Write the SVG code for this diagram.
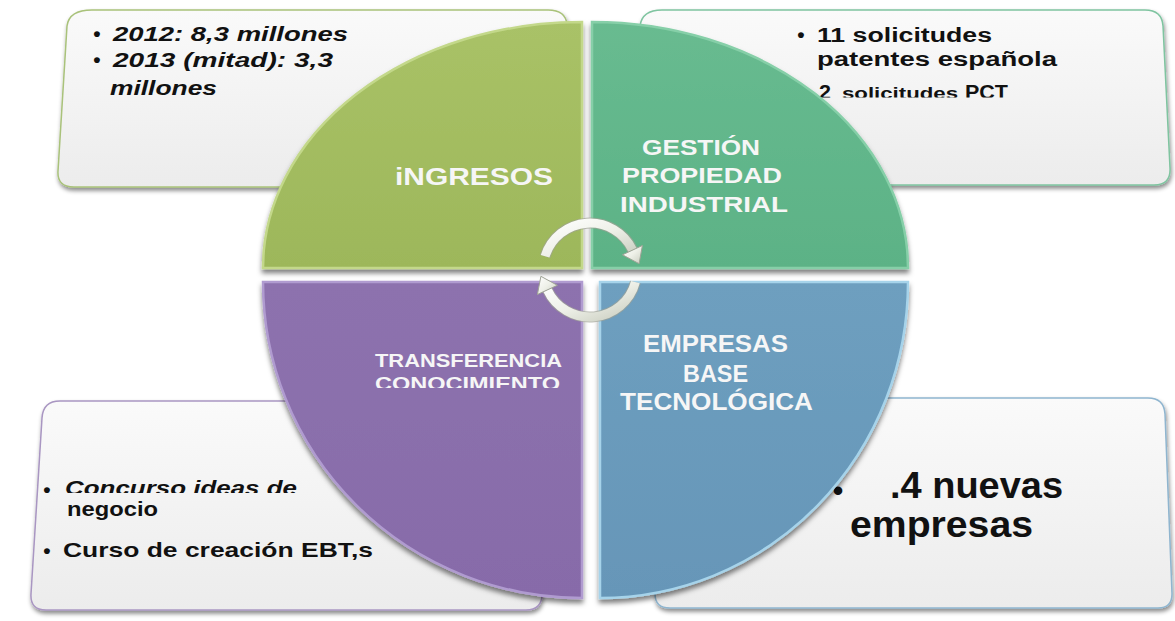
<svg xmlns="http://www.w3.org/2000/svg" width="1175" height="621" viewBox="0 0 1175 621">
  <style>
    .box { stroke-width: 1.5; filter: url(#shadow); }
    .btxt { font-family: "Liberation Sans", Arial, sans-serif; font-weight: bold; fill: #111111; }
    .bul { font-family: "Liberation Sans", Arial, sans-serif; font-weight: bold; fill: #111111; text-anchor: middle; }
    .lbl { font-family: "Liberation Sans", Arial, sans-serif; font-weight: bold; fill: #f6f6f6; }
    .quad { filter: url(#qshadow); stroke-width: 2.5; }
  </style>
  <defs>
    <filter id="shadow" x="-10%" y="-10%" width="120%" height="130%">
      <feDropShadow dx="1" dy="3" stdDeviation="2" flood-color="#000000" flood-opacity="0.45"/>
    </filter>
    <filter id="qshadow" x="-10%" y="-10%" width="120%" height="130%">
      <feDropShadow dx="0" dy="4" stdDeviation="2.5" flood-color="#000000" flood-opacity="0.5"/>
    </filter>
    <linearGradient id="boxFill" x1="0" y1="0" x2="0" y2="1">
      <stop offset="0" stop-color="#fafafa"/>
      <stop offset="1" stop-color="#ececec"/>
    </linearGradient>
    <linearGradient id="gGreen" x1="0" y1="0" x2="0" y2="1">
      <stop offset="0" stop-color="#a9c267"/>
      <stop offset="1" stop-color="#9db75a"/>
    </linearGradient>
    <linearGradient id="gTeal" x1="0" y1="0" x2="0" y2="1">
      <stop offset="0" stop-color="#68bb90"/>
      <stop offset="1" stop-color="#5cb286"/>
    </linearGradient>
    <linearGradient id="gPurple" x1="0" y1="0" x2="0" y2="1">
      <stop offset="0" stop-color="#8d72ae"/>
      <stop offset="1" stop-color="#876ba9"/>
    </linearGradient>
    <linearGradient id="gBlue" x1="0" y1="0" x2="0" y2="1">
      <stop offset="0" stop-color="#6e9fbf"/>
      <stop offset="1" stop-color="#6696b8"/>
    </linearGradient>
    <linearGradient id="gArrow" x1="0" y1="0" x2="1" y2="1">
      <stop offset="0" stop-color="#ffffff"/>
      <stop offset="0.5" stop-color="#eef0e8"/>
      <stop offset="1" stop-color="#c9cdbf"/>
    </linearGradient>
    <clipPath id="clipTR3"><rect x="780" y="70" width="300" height="27.5"/></clipPath>
    <clipPath id="clipCono"><rect x="360" y="370" width="220" height="18"/></clipPath>
    <clipPath id="clipConc"><rect x="30" y="470" width="300" height="23"/></clipPath>
  </defs>
  <rect width="1175" height="621" fill="#ffffff"/>

  <!-- Text boxes (drawn behind the quadrants) -->
  <g id="box-ingresos">
    <path class="box" d="M 92 10 L 548 10 Q 566 10 567 25 L 572 170 Q 572 187 556 187 L 74 187 Q 57 187 58 171 L 67 26 Q 69 10 92 10 Z" fill="url(#boxFill)" stroke="#a9c27a"/>
    <text class="bul" x="97" y="41" font-size="21">•</text>
    <text class="btxt" x="113" y="41" font-size="19.5" font-style="italic" textLength="235" lengthAdjust="spacingAndGlyphs">2012: 8,3 millones</text>
    <text class="bul" x="97" y="67" font-size="21">•</text>
    <text class="btxt" x="113" y="67" font-size="19.5" font-style="italic" textLength="220" lengthAdjust="spacingAndGlyphs">2013 (mitad): 3,3</text>
    <text class="btxt" x="110" y="95" font-size="19.5" font-style="italic" textLength="107" lengthAdjust="spacingAndGlyphs">millones</text>
  </g>

  <g id="box-propiedad">
    <path class="box" d="M 662 10 L 1145 10 Q 1162 10 1163 26 L 1170 168 Q 1171 185 1154 185 L 650 185 Q 636 185 636 170 L 640 26 Q 642 10 662 10 Z" fill="url(#boxFill)" stroke="#7fc4a0"/>
    <text class="bul" x="801" y="42" font-size="21">•</text>
    <text class="btxt" x="817" y="42" font-size="19.5" textLength="175" lengthAdjust="spacingAndGlyphs">11 solicitudes</text>
    <text class="btxt" x="817" y="66" font-size="19.5" textLength="240" lengthAdjust="spacingAndGlyphs">patentes española</text>
    <g clip-path="url(#clipTR3)">
      <text class="bul" x="805" y="98" font-size="21">•</text>
      <text class="btxt" x="819" y="99" font-size="19.5" textLength="12" lengthAdjust="spacingAndGlyphs">2</text>
      <text class="btxt" x="842" y="99" font-size="16" textLength="116" lengthAdjust="spacingAndGlyphs">solicitudes</text>
      <text class="btxt" x="965" y="99" font-size="19.5" textLength="43" lengthAdjust="spacingAndGlyphs">PCT</text>
    </g>
  </g>

  <g id="box-transferencia">
    <path class="box" d="M 60 401 L 521 401 Q 538 401 539 417 L 542 594 Q 542 610 526 610 L 46 610 Q 30 610 31 594 L 42 418 Q 43 401 60 401 Z" fill="url(#boxFill)" stroke="#a996c2"/>
    <g clip-path="url(#clipConc)">
      <text class="bul" x="47" y="497" font-size="21">•</text>
      <text class="btxt" x="65" y="495" font-size="21" font-style="italic" textLength="232" lengthAdjust="spacingAndGlyphs">Concurso ideas de</text>
    </g>
    <text class="btxt" x="67" y="516" font-size="21" textLength="91" lengthAdjust="spacingAndGlyphs">negocio</text>
    <text class="bul" x="47" y="558" font-size="21">•</text>
    <text class="btxt" x="63" y="557" font-size="21" textLength="310" lengthAdjust="spacingAndGlyphs">Curso de creación EBT,s</text>
  </g>

  <g id="box-empresas">
    <path class="box" d="M 672 398 L 1148 398 Q 1164 398 1165 414 L 1172 594 Q 1172 608 1158 608 L 670 608 Q 655 608 655 594 L 655 420 Q 655 398 672 398 Z" fill="url(#boxFill)" stroke="#8fb5cf"/>
    <text class="bul" x="838" y="501" font-size="30">•</text>
    <text class="btxt" x="890" y="498" font-size="36" textLength="173" lengthAdjust="spacingAndGlyphs">.4 nuevas</text>
    <text class="btxt" x="850" y="537" font-size="36" textLength="183" lengthAdjust="spacingAndGlyphs">empresas</text>
  </g>

  <!-- Quadrants -->
  <g id="q-ingresos">
    <path class="quad" d="M 582 268 L 263 268 A 319 246 0 0 1 582 22 Z" fill="url(#gGreen)" stroke="#c3d88a"/>
    <text class="lbl" x="395" y="185" font-size="24" textLength="158" lengthAdjust="spacingAndGlyphs">iNGRESOS</text>
  </g>
  <g id="q-propiedad">
    <path class="quad" d="M 592 268 L 592 22 A 316 246 0 0 1 908 268 Z" fill="url(#gTeal)" stroke="#86cfa8"/>
    <text class="lbl" x="642" y="155" font-size="22" textLength="118" lengthAdjust="spacingAndGlyphs">GESTIÓN</text>
    <text class="lbl" x="622" y="183" font-size="22" textLength="160" lengthAdjust="spacingAndGlyphs">PROPIEDAD</text>
    <text class="lbl" x="620" y="212" font-size="22" textLength="168" lengthAdjust="spacingAndGlyphs">INDUSTRIAL</text>
  </g>
  <g id="q-transferencia">
    <path class="quad" d="M 582 282 L 582 598 A 319 316 0 0 1 263 282 Z" fill="url(#gPurple)" stroke="#b09bd0"/>
    <text class="lbl" x="375" y="367" font-size="19" textLength="187" lengthAdjust="spacingAndGlyphs">TRANSFERENCIA</text>
    <g clip-path="url(#clipCono)">
      <text class="lbl" x="375" y="390" font-size="19" textLength="185" lengthAdjust="spacingAndGlyphs">CONOCIMIENTO</text>
    </g>
  </g>
  <g id="q-empresas">
    <path class="quad" d="M 600 282 L 908 282 A 308 316 0 0 1 600 598 Z" fill="url(#gBlue)" stroke="#a6d3ea"/>
    <text class="lbl" x="643" y="352" font-size="23" textLength="145" lengthAdjust="spacingAndGlyphs">EMPRESAS</text>
    <text class="lbl" x="683" y="382" font-size="23" textLength="65" lengthAdjust="spacingAndGlyphs">BASE</text>
    <text class="lbl" x="620" y="410" font-size="23" textLength="193" lengthAdjust="spacingAndGlyphs">TECNOLÓGICA</text>
  </g>

  <!-- Circular arrows -->
  <g id="connectors">
    <path d="M 545.1 256.3 A 47 47 0 0 1 632.6 250.1" fill="none" stroke="#9fa396" stroke-width="11" stroke-opacity="0.7"/>
    <path d="M 545.1 256.3 A 47 47 0 0 1 632.6 250.1" fill="none" stroke="url(#gArrow)" stroke-width="9"/>
    <polygon points="642.4,245.5 622.5,254.8 639.1,263.7" fill="url(#gArrow)" stroke="#9fa396" stroke-width="1"/>
    <path d="M 635.4 282.2 A 47 47 0 0 1 547.4 289.9" fill="none" stroke="#9fa396" stroke-width="11" stroke-opacity="0.7"/>
    <path d="M 635.4 282.2 A 47 47 0 0 1 547.4 289.9" fill="none" stroke="url(#gArrow)" stroke-width="9"/>
    <polygon points="537.4,294.5 557.4,285.3 540.9,276.3" fill="url(#gArrow)" stroke="#9fa396" stroke-width="1"/>
  </g>
</svg>
